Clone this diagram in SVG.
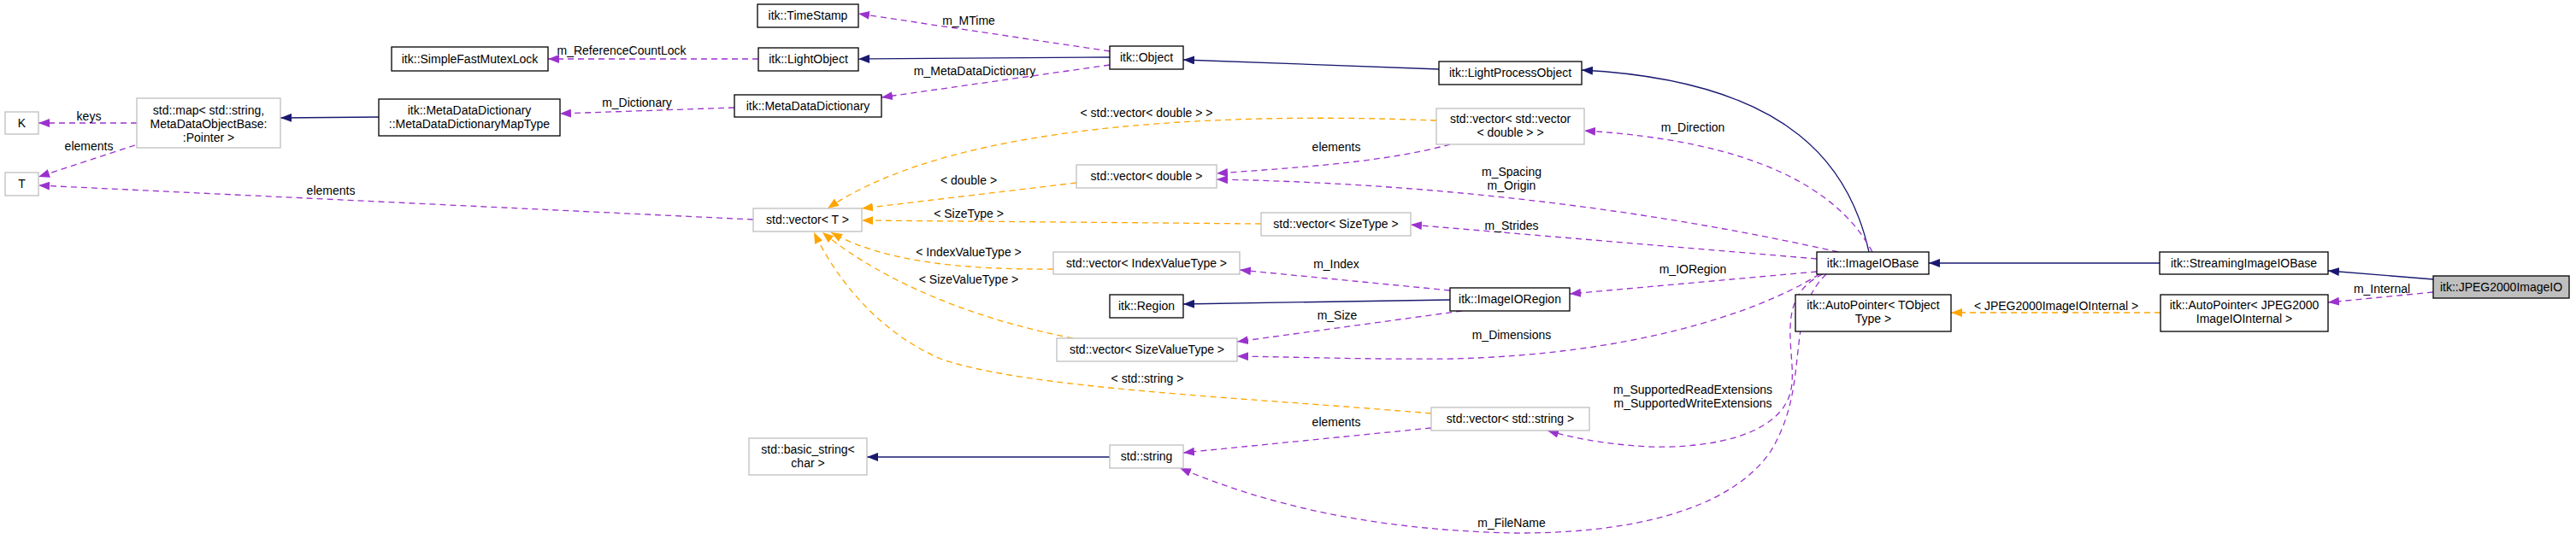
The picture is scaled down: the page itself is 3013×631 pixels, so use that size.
<svg xmlns="http://www.w3.org/2000/svg" width="3013" height="631" viewBox="0 0 3013 631">
<style>
text{font-family:"Liberation Sans",Arial,sans-serif;font-size:14px;fill:#000;text-anchor:middle}
.nd{fill:#fff;stroke:#000;stroke-width:1.3}
.ng{fill:#fff;stroke:#bfbfbf;stroke-width:1.3}
.cur{fill:#bfbfbf;stroke:#000;stroke-width:1.3}
.inh{fill:none;stroke:#191970;stroke-width:1.3;marker-end:url(#ab)}
.use{fill:none;stroke:#9a32cd;stroke-width:1.3;stroke-dasharray:7,5;marker-end:url(#ap)}
.tpl{fill:none;stroke:#ffa500;stroke-width:1.3;stroke-dasharray:7,5;marker-end:url(#ao)}
</style>
<defs>
<marker id="ab" markerUnits="userSpaceOnUse" markerWidth="14" markerHeight="10" refX="13" refY="5" orient="auto"><path d="M0,0 L13,5 L0,10 z" fill="#191970"/></marker>
<marker id="ap" markerUnits="userSpaceOnUse" markerWidth="14" markerHeight="10" refX="13" refY="5" orient="auto"><path d="M0,0 L13,5 L0,10 z" fill="#9a32cd"/></marker>
<marker id="ao" markerUnits="userSpaceOnUse" markerWidth="14" markerHeight="10" refX="13" refY="5" orient="auto"><path d="M0,0 L13,5 L0,10 z" fill="#ffa500"/></marker>
</defs>
<rect width="3013" height="631" fill="#fff"/>
<g id="edges">
<path class="use" d="M887,69 L641,69"/><text x="727" y="64">m_ReferenceCountLock</text>
<path class="use" d="M1298,60 L1004,16"/><text x="1133" y="29">m_MTime</text>
<path class="inh" d="M1298,67 L1004,69"/>
<path class="use" d="M1298,76 L1031,114"/><text x="1140" y="88">m_MetaDataDictionary</text>
<path class="use" d="M859,126 L655,133"/><text x="745" y="125">m_Dictionary</text>
<path class="inh" d="M443,137 L328,138"/>
<path class="use" d="M160,144 L45,144"/><text x="104" y="141">keys</text>
<path class="use" d="M158,170 L45,207"/><text x="104" y="176">elements</text>
<path class="use" d="M881,257 L45,217"/><text x="387" y="228">elements</text>
<path class="inh" d="M1683,81 L1384,70"/>
<path class="inh" d="M2186,295 C2165,200 2100,95 1850,82"/>
<path class="inh" d="M2526,308 L2256,308"/>
<path class="inh" d="M2846,327 L2723,317"/>
<path class="use" d="M2846,342 L2723,354"/><text x="2786" y="343">m_Internal</text>
<path class="tpl" d="M2527,366 L2282,366"/><text x="2405" y="363">&lt; JPEG2000ImageIOInternal &gt;</text>
<path class="tpl" d="M1680,141 C1450,132 1120,140 968,244"/><text x="1341" y="137">&lt; std::vector&lt; double &gt; &gt;</text>
<path class="tpl" d="M1259,214 L1008,244"/><text x="1133" y="216">&lt; double &gt;</text>
<path class="tpl" d="M1475,262 L1008,258"/><text x="1133" y="255">&lt; SizeType &gt;</text>
<path class="tpl" d="M1232,315 C1120,316 1030,305 972,272"/><text x="1133" y="300">&lt; IndexValueType &gt;</text>
<path class="tpl" d="M1255,396 C1120,370 1020,320 962,272"/><text x="1133" y="332">&lt; SizeValueType &gt;</text>
<path class="tpl" d="M1674,484 C1450,465 1200,455 1100,420 C1030,390 980,330 952,272"/><text x="1342" y="448">&lt; std::string &gt;</text>
<path class="use" d="M1696,169 C1620,190 1520,196 1423,203"/><text x="1563" y="177">elements</text>
<path class="use" d="M2190,295 C2150,220 2050,165 1853,153"/><text x="1980" y="154">m_Direction</text>
<path class="use" d="M2150,295 C1950,250 1700,215 1423,210"/><text x="1768" y="206">m_Spacing</text><text x="1768" y="222">m_Origin</text>
<path class="use" d="M2125,303 L1650,263"/><text x="1768" y="269">m_Strides</text>
<path class="use" d="M1696,340 L1450,316"/><text x="1563" y="314">m_Index</text>
<path class="inh" d="M1696,351 L1384,356"/>
<path class="use" d="M1710,364 L1447,400"/><text x="1564" y="374">m_Size</text>
<path class="use" d="M2125,318 L1836,344"/><text x="1980" y="320">m_IORegion</text>
<path class="use" d="M2128,321 C2050,370 1900,415 1700,420 C1600,421 1520,418 1447,417"/><text x="1768" y="397">m_Dimensions</text>
<path class="use" d="M2132,321 C2070,350 2105,420 2094,460 C2080,510 2000,525 1930,523 C1870,520 1830,510 1810,504"/><text x="1980" y="461">m_SupportedReadExtensions</text><text x="1980" y="477">m_SupportedWriteExtensions</text>
<path class="use" d="M2136,321 C2085,370 2120,450 2070,530 C2020,600 1900,625 1770,624 C1600,620 1480,590 1380,548"/><text x="1768" y="617">m_FileName</text>
<path class="use" d="M1674,501 L1384,530"/><text x="1563" y="499">elements</text>
<path class="inh" d="M1298,535 L1014,535"/>
</g>
<g id="n_K"><rect class="ng" x="6" y="131" width="39" height="26"/><text x="25.5" y="149">K</text></g>
<g id="n_T"><rect class="ng" x="6" y="202" width="39" height="27"/><text x="25.5" y="220">T</text></g>
<g id="n_map"><rect class="ng" x="160" y="115" width="168" height="58"/><text x="244" y="134">std::map&lt; std::string,</text><text x="244" y="150">MetaDataObjectBase:</text><text x="244" y="166">:Pointer &gt;</text></g>
<g id="n_maptype"><rect class="nd" x="443" y="116" width="212" height="43"/><text x="549" y="134">itk::MetaDataDictionary</text><text x="549" y="150">::MetaDataDictionaryMapType</text></g>
<g id="n_mutex"><rect class="nd" x="458" y="55" width="183" height="28"/><text x="549.5" y="74">itk::SimpleFastMutexLock</text></g>
<g id="n_timestamp"><rect class="nd" x="886" y="5" width="118" height="27"/><text x="945" y="23">itk::TimeStamp</text></g>
<g id="n_lightobject"><rect class="nd" x="887" y="56" width="117" height="27"/><text x="945.5" y="74">itk::LightObject</text></g>
<g id="n_mdd"><rect class="nd" x="859" y="111" width="172" height="26"/><text x="945" y="129">itk::MetaDataDictionary</text></g>
<g id="n_object"><rect class="nd" x="1298" y="54" width="86" height="27"/><text x="1341" y="72">itk::Object</text></g>
<g id="n_vecT"><rect class="ng" x="881" y="244" width="127" height="27"/><text x="944.5" y="262">std::vector&lt; T &gt;</text></g>
<g id="n_vecdouble"><rect class="ng" x="1259" y="193" width="164" height="27"/><text x="1341" y="211">std::vector&lt; double &gt;</text></g>
<g id="n_vecidx"><rect class="ng" x="1232" y="295" width="218" height="26"/><text x="1341" y="313">std::vector&lt; IndexValueType &gt;</text></g>
<g id="n_region"><rect class="nd" x="1298" y="345" width="86" height="27"/><text x="1341" y="363">itk::Region</text></g>
<g id="n_vecsizeval"><rect class="ng" x="1236" y="396" width="211" height="27"/><text x="1341.5" y="414">std::vector&lt; SizeValueType &gt;</text></g>
<g id="n_basicstring"><rect class="ng" x="876" y="513" width="138" height="43"/><text x="945" y="531">std::basic_string&lt;</text><text x="945" y="547">char &gt;</text></g>
<g id="n_string"><rect class="ng" x="1298" y="521" width="86" height="27"/><text x="1341" y="539">std::string</text></g>
<g id="n_lpo"><rect class="nd" x="1683" y="72" width="167" height="27"/><text x="1766.5" y="90">itk::LightProcessObject</text></g>
<g id="n_vecvec"><rect class="ng" x="1680" y="127" width="173" height="42"/><text x="1766.5" y="144">std::vector&lt; std::vector</text><text x="1766.5" y="160">&lt; double &gt; &gt;</text></g>
<g id="n_vecsize"><rect class="ng" x="1475" y="249" width="175" height="27"/><text x="1562.5" y="267">std::vector&lt; SizeType &gt;</text></g>
<g id="n_ioregion"><rect class="nd" x="1696" y="337" width="140" height="27"/><text x="1766" y="355">itk::ImageIORegion</text></g>
<g id="n_vecstring"><rect class="ng" x="1674" y="477" width="185" height="27"/><text x="1766.5" y="495">std::vector&lt; std::string &gt;</text></g>
<g id="n_imageiobase"><rect class="nd" x="2125" y="295" width="131" height="26"/><text x="2190.5" y="313">itk::ImageIOBase</text></g>
<g id="n_autoptrT"><rect class="nd" x="2100" y="345" width="182" height="43"/><text x="2191" y="362">itk::AutoPointer&lt; TObject</text><text x="2191" y="378">Type &gt;</text></g>
<g id="n_streaming"><rect class="nd" x="2526" y="295" width="197" height="26"/><text x="2624.5" y="313">itk::StreamingImageIOBase</text></g>
<g id="n_autoptrJ"><rect class="nd" x="2527" y="345" width="196" height="43"/><text x="2625" y="362">itk::AutoPointer&lt; JPEG2000</text><text x="2625" y="378">ImageIOInternal &gt;</text></g>
<g id="n_jpeg"><rect class="cur" x="2846" y="323" width="159" height="26"/><text x="2925.5" y="341">itk::JPEG2000ImageIO</text></g>
</svg>
